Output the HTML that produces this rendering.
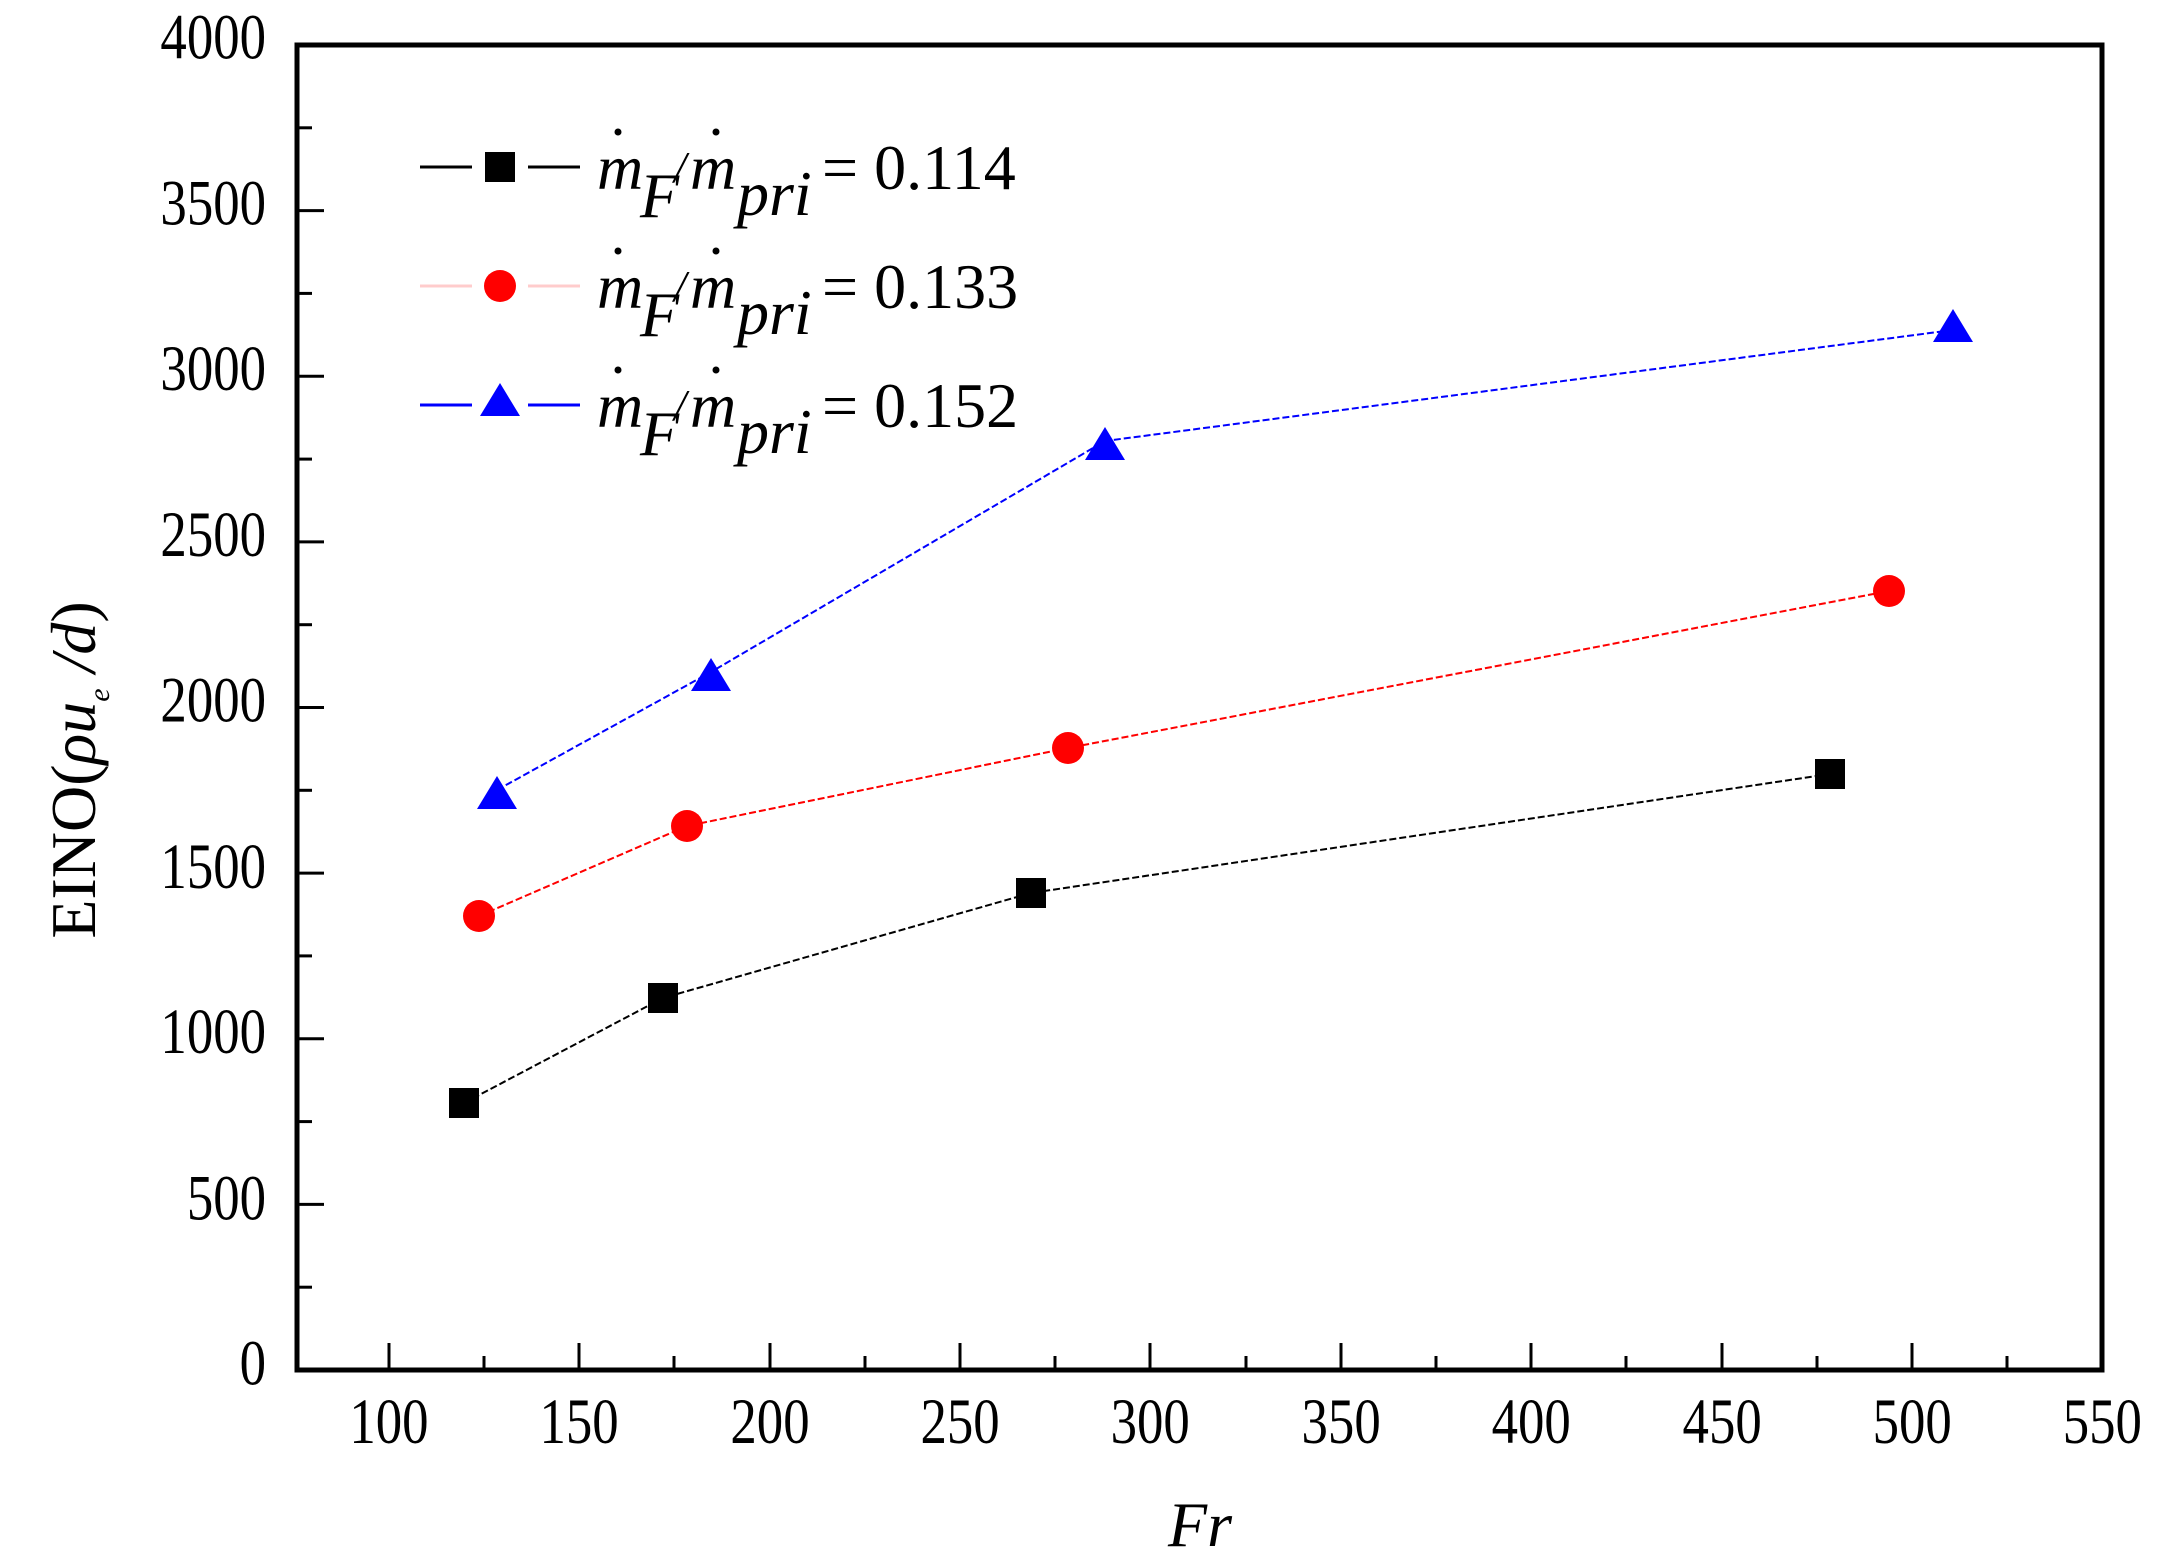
<!DOCTYPE html>
<html><head><meta charset="utf-8"><style>
html,body{margin:0;padding:0;background:#fff}
svg{display:block}
text{font-family:"Liberation Serif",serif;fill:#000}
</style></head><body>
<svg width="2167" height="1563" viewBox="0 0 2167 1563" xmlns="http://www.w3.org/2000/svg">
<rect x="0" y="0" width="2167" height="1563" fill="#fff"/>
<rect x="297" y="45" width="1805" height="1325" fill="none" stroke="#000" stroke-width="5"/>
<g stroke="#000" stroke-width="3">
<line x1="389" y1="1370" x2="389" y2="1343"/><line x1="484" y1="1370" x2="484" y2="1356"/>
<line x1="579" y1="1370" x2="579" y2="1343"/><line x1="674" y1="1370" x2="674" y2="1356"/>
<line x1="770" y1="1370" x2="770" y2="1343"/><line x1="865" y1="1370" x2="865" y2="1356"/>
<line x1="960" y1="1370" x2="960" y2="1343"/><line x1="1055" y1="1370" x2="1055" y2="1356"/>
<line x1="1150" y1="1370" x2="1150" y2="1343"/><line x1="1246" y1="1370" x2="1246" y2="1356"/>
<line x1="1341" y1="1370" x2="1341" y2="1343"/><line x1="1436" y1="1370" x2="1436" y2="1356"/>
<line x1="1531" y1="1370" x2="1531" y2="1343"/><line x1="1626" y1="1370" x2="1626" y2="1356"/>
<line x1="1722" y1="1370" x2="1722" y2="1343"/><line x1="1817" y1="1370" x2="1817" y2="1356"/>
<line x1="1912" y1="1370" x2="1912" y2="1343"/><line x1="2007" y1="1370" x2="2007" y2="1356"/>
<line x1="297" y1="1204.4" x2="324" y2="1204.4"/><line x1="297" y1="1287.2" x2="312" y2="1287.2"/>
<line x1="297" y1="1038.8" x2="324" y2="1038.8"/><line x1="297" y1="1121.6" x2="312" y2="1121.6"/>
<line x1="297" y1="873.1" x2="324" y2="873.1"/><line x1="297" y1="955.9" x2="312" y2="955.9"/>
<line x1="297" y1="707.5" x2="324" y2="707.5"/><line x1="297" y1="790.3" x2="312" y2="790.3"/>
<line x1="297" y1="541.9" x2="324" y2="541.9"/><line x1="297" y1="624.7" x2="312" y2="624.7"/>
<line x1="297" y1="376.3" x2="324" y2="376.3"/><line x1="297" y1="459.1" x2="312" y2="459.1"/>
<line x1="297" y1="210.6" x2="324" y2="210.6"/><line x1="297" y1="293.4" x2="312" y2="293.4"/>
<line x1="297" y1="127.8" x2="312" y2="127.8"/>
</g>
<g font-size="60" text-anchor="end" transform="translate(266,0) scale(0.88,1.08) translate(-266,0)">
<text x="266" y="1282">0</text>
<text x="266" y="1129">500</text>
<text x="266" y="975">1000</text>
<text x="266" y="822">1500</text>
<text x="266" y="668">2000</text>
<text x="266" y="515">2500</text>
<text x="266" y="361">3000</text>
<text x="266" y="208">3500</text>
<text x="266" y="54">4000</text>
</g>
<g font-size="60" text-anchor="middle">
<g transform="translate(0,1443) scale(0.88,1.08)">
<text x="442" y="0">100</text><text x="658" y="0">150</text><text x="875" y="0">200</text>
<text x="1091" y="0">250</text><text x="1307" y="0">300</text><text x="1524" y="0">350</text>
<text x="1740" y="0">400</text><text x="1957" y="0">450</text><text x="2173" y="0">500</text>
<text x="2389" y="0">550</text>
</g>
</g>
<text x="1200" y="1546" font-size="64" font-style="italic" text-anchor="middle">Fr</text>
<g transform="translate(95,770) rotate(-90)">
<text x="0" y="0" font-size="64" text-anchor="middle">EINO(<tspan font-style="italic">ρu</tspan><tspan font-size="30" font-style="italic" dy="14">e</tspan><tspan font-style="italic" dy="-14"> /d</tspan>)</text>
</g>
<polyline points="464,1103 663,998 1031,893 1830,774" fill="none" stroke="#000" stroke-width="2" stroke-dasharray="7 3"/>
<polyline points="479,916 687,826 1068,748 1889,591" fill="none" stroke="#f00" stroke-width="2" stroke-dasharray="7 3"/>
<polyline points="497,790 711,672 1105,441 1953,330" fill="none" stroke="#00f" stroke-width="2" stroke-dasharray="7 3"/>
<g fill="#000">
<rect x="449" y="1088" width="30" height="30"/><rect x="648" y="983" width="30" height="30"/>
<rect x="1016" y="878" width="30" height="30"/><rect x="1815" y="759" width="30" height="30"/>
</g>
<g fill="#f00">
<circle cx="479" cy="916" r="16"/><circle cx="687" cy="826" r="16"/>
<circle cx="1068" cy="748" r="16"/><circle cx="1889" cy="591" r="16"/>
</g>
<g fill="#00f">
<polygon points="497,776 517,809 477,809"/><polygon points="711,658 731,691 691,691"/>
<polygon points="1105,427 1125,460 1085,460"/><polygon points="1953,309 1973,342 1933,342"/>
</g>
<line x1="420" y1="167" x2="472" y2="167" stroke="#000" stroke-width="3"/>
<line x1="528" y1="167" x2="580" y2="167" stroke="#000" stroke-width="3"/>
<rect x="485" y="152" width="30" height="30" fill="#000"/>
<line x1="420" y1="286" x2="472" y2="286" stroke="#fcc" stroke-width="3"/>
<line x1="528" y1="286" x2="580" y2="286" stroke="#fcc" stroke-width="3"/>
<circle cx="500" cy="286" r="16" fill="#f00"/>
<line x1="420" y1="405" x2="472" y2="405" stroke="#00f" stroke-width="3"/>
<line x1="528" y1="405" x2="580" y2="405" stroke="#00f" stroke-width="3"/>
<polygon points="500,383 520,416 480,416" fill="#00f"/>
<g font-size="64">
<g>
<circle cx="618" cy="132" r="3.5" fill="#000"/><circle cx="716" cy="132" r="3.5" fill="#000"/>
<text x="597" y="189" font-style="italic">m</text><text x="640" y="217" font-style="italic">F</text>
<text x="674" y="182" font-style="italic" font-size="44">/</text><text x="690" y="189" font-style="italic">m</text>
<text x="737" y="215" font-style="italic">pri</text><text x="822" y="189">= 0.114</text>
</g>
<g transform="translate(0,119)">
<circle cx="618" cy="132" r="3.5" fill="#000"/><circle cx="716" cy="132" r="3.5" fill="#000"/>
<text x="597" y="189" font-style="italic">m</text><text x="640" y="217" font-style="italic">F</text>
<text x="674" y="182" font-style="italic" font-size="44">/</text><text x="690" y="189" font-style="italic">m</text>
<text x="737" y="215" font-style="italic">pri</text><text x="822" y="189">= 0.133</text>
</g>
<g transform="translate(0,238)">
<circle cx="618" cy="132" r="3.5" fill="#000"/><circle cx="716" cy="132" r="3.5" fill="#000"/>
<text x="597" y="189" font-style="italic">m</text><text x="640" y="217" font-style="italic">F</text>
<text x="674" y="182" font-style="italic" font-size="44">/</text><text x="690" y="189" font-style="italic">m</text>
<text x="737" y="215" font-style="italic">pri</text><text x="822" y="189">= 0.152</text>
</g>
</g>
</svg>
</body></html>
